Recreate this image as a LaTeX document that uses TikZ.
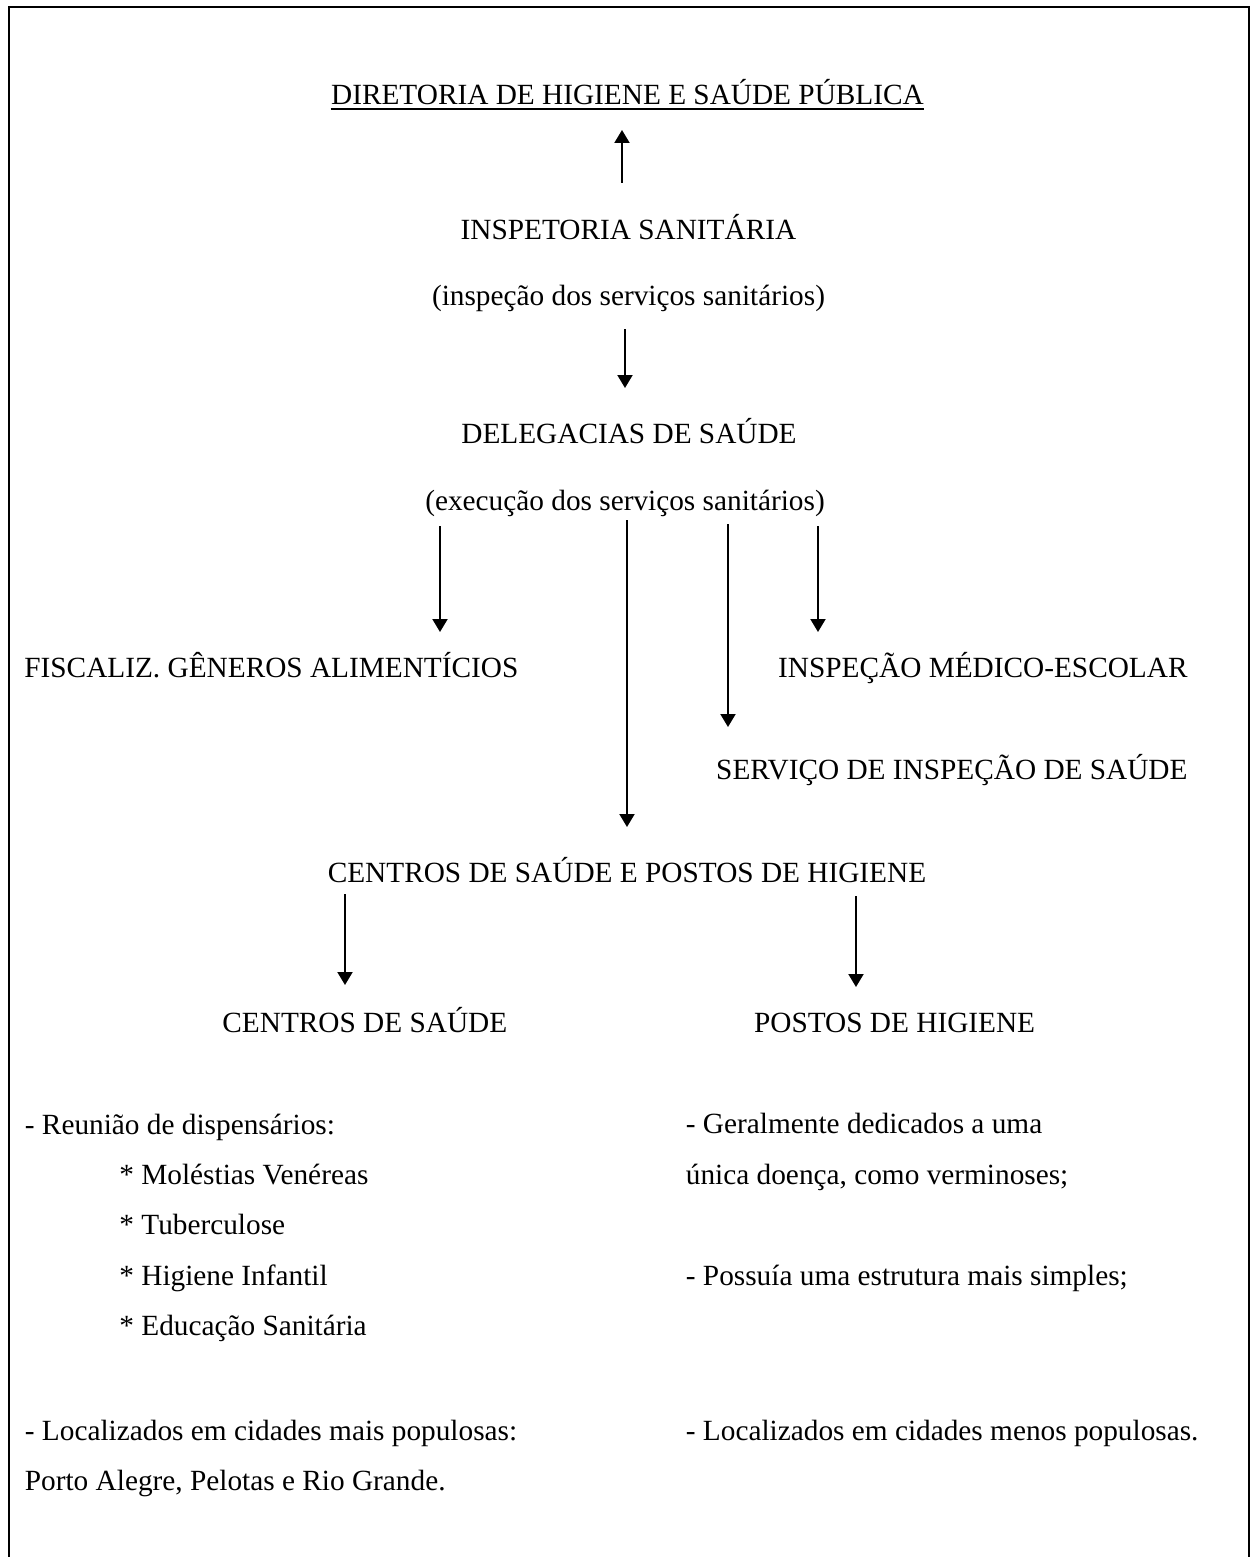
\documentclass[tikz,border=0pt]{standalone}
\usepackage{fontspec}
\setmainfont{Liberation Serif}
\usetikzlibrary{arrows.meta}

\begin{document}
\begin{tikzpicture}[x=0.5pt, y=-0.5pt,
    texto/.style={inner sep=0pt, anchor=base, font=\fontsize{14.65}{17}\selectfont},
    textoesq/.style={texto, anchor=base west},
    textodir/.style={texto, anchor=base east},
    seta/.style={line width=1pt, -{Triangle[length=6.5pt, width=7.5pt]}}]
  % Colunas e linhas de base (em pixels)
  \def\xmeio{627.5}
  \def\xesq{24.5}
  \def\xitem{119}
  \def\xcol{685.5}
  \useasboundingbox (0,0) rectangle (1250,1557);
  % Moldura aberta embaixo
  \draw[line width=1pt] (9,1557) -- (9,7) -- (1248.5,7) -- (1248.5,1557);
  % Niveis superiores
  \node[texto] (diretoria) at (\xmeio,104.3) {DIRETORIA DE HIGIENE E SAÚDE PÚBLICA};
  \draw[line width=1pt] ([yshift=-2.25pt]diretoria.base west) -- ([yshift=-2.25pt]diretoria.base east);
  \node[texto] (inspetoria) at (628.5,240) {INSPETORIA SANITÁRIA};
  \node[texto] (inspdesc) at (628.5,305) {(inspeção dos serviços sanitários)};
  \node[texto] (delegacias) at (629,443) {DELEGACIAS DE SAÚDE};
  \node[texto] (execdesc) at (625,510) {(execução dos serviços sanitários)};
  % Servicos ligados as delegacias
  \node[textoesq] (fiscaliz) at (24,677) {FISCALIZ. GÊNEROS ALIMENTÍCIOS};
  \node[textodir] (medesc) at (1188,677) {INSPEÇÃO MÉDICO-ESCOLAR};
  \node[textodir] (servinsp) at (1188,779) {SERVIÇO DE INSPEÇÃO DE SAÚDE};
  \node[texto] (centpost) at (627,882) {CENTROS DE SAÚDE E POSTOS DE HIGIENE};
  \node[textoesq] (centros) at (222,1032) {CENTROS DE SAÚDE};
  \node[textoesq] (postos) at (753.7,1032) {POSTOS DE HIGIENE};
  % Pontas das setas
  \coordinate (s0a) at (622,183);  \coordinate (s0b) at (622,130);
  \coordinate (s1a) at (625,329);  \coordinate (s1b) at (625,388);
  \coordinate (s2a) at (440,526);  \coordinate (s2b) at (440,632);
  \coordinate (s3a) at (627,520);  \coordinate (s3b) at (627,827);
  \coordinate (s4a) at (728,524);  \coordinate (s4b) at (728,727);
  \coordinate (s5a) at (818,526);  \coordinate (s5b) at (818,632);
  \coordinate (s6a) at (345,894);  \coordinate (s6b) at (345,985);
  \coordinate (s7a) at (856,896);  \coordinate (s7b) at (856,987);
  \foreach \i in {0,...,7}
    \draw[seta] (s\i a) -- (s\i b);
  % Coluna dos centros de saude
  \node[textoesq] (reuniao) at (\xesq,1134.5) {- Reunião de dispensários:};
  \foreach \t [count=\i] in {Moléstias Venéreas, Tuberculose, Higiene Infantil, Educação Sanitária}
    \node[textoesq] (item\i) at (\xitem,1133.5+50.6*\i) {* \t};
  \node[textoesq] (locmais) at (\xesq,1440) {- Localizados em cidades mais populosas:};
  \node[textoesq] (cidades) at (\xesq,1490.5) {Porto Alegre, Pelotas e Rio Grande.};
  % Coluna dos postos de higiene
  \node[textoesq] (geral) at (\xcol,1133.5) {- Geralmente dedicados a uma};
  \node[textoesq] (unica) at (\xcol,1184) {única doença, como verminoses;};
  \node[textoesq] (possuia) at (\xcol,1285) {- Possuía uma estrutura mais simples;};
  \node[textoesq] (locmenos) at (\xcol,1440) {- Localizados em cidades menos populosas.};
\end{tikzpicture}
\end{document}
